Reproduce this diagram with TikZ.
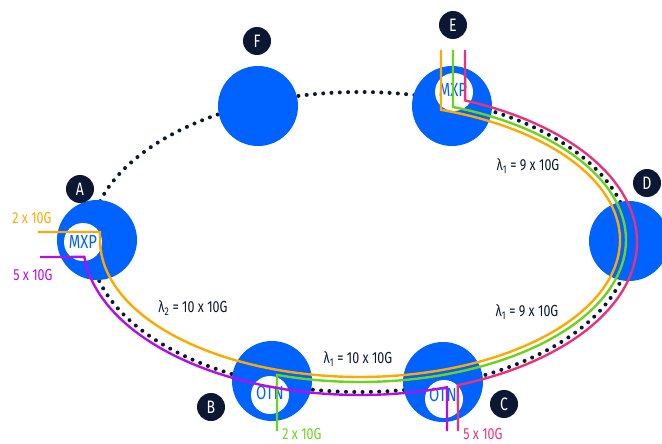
\documentclass[tikz,border=0pt]{standalone}
\usepackage{fontspec}
\setmainfont{Fira Sans}[FakeStretch=0.78]
\definecolor{nodeblue}{HTML}{0062FF}
\definecolor{navy}{HTML}{0B1733}
\definecolor{lorange}{HTML}{FFA800}
\definecolor{lgreen}{HTML}{6CD41E}
\definecolor{lpink}{HTML}{E8327C}
\definecolor{lpurple}{HTML}{B30FE6}
\begin{document}
\begin{tikzpicture}[x=1pt,y=-1pt,
  site/.style={circle, fill=nodeblue, minimum size=80pt, inner sep=0pt},
  hole/.style={circle, fill=white, minimum size=38pt, inner sep=0pt},
  tag/.style={circle, fill=navy, text=white, minimum size=28pt, inner sep=0pt, font=\fontsize{18}{18}\selectfont},
  eq/.style={text=navy, inner sep=0pt, font=\fontsize{16}{16}\selectfont},
  rate/.style={inner sep=0pt, font=\fontsize{16}{16}\selectfont},
  dev/.style={text=nodeblue, inner sep=0pt, font=\fontsize{19}{19}\selectfont},
  fiber/.style={line width=2.4pt},
  ring/.style={navy, line width=4pt, dash pattern=on 0pt off 8.3pt, line cap=round}]
\useasboundingbox (0,0) rectangle (662,444);
% dotted ring
\draw[ring] (360,242) ellipse [x radius=270pt, y radius=150pt];
% sites
\node[site] (A) at (97,240) {};
\node[site] (F) at (258,106) {};
\node[site] (E) at (452,106) {};
\node[site] (D) at (629,241) {};
\node[site] (C) at (443,382) {};
\node[site] (B) at (272,381) {};
% holes with devices
\node[hole] (Ah) at (83,242) {};
\node[dev] (Ad) at (Ah) {MXP};
\node[hole] (Eh) at (454,92) {};
\node[dev] (Ed) at (453,90) {MXP};
\node[hole] (Bh) at (270,395) {};
\node[dev] (Bd) at (270,393) {OTN};
\node[hole] (Ch) at (444,399) {};
\node[dev] (Cd) at (443,395) {OTN};
% tags
\node[tag] (At) at (80,189) {A};
\node[tag] (Ft) at (257,41) {F};
\node[tag] (Et) at (453,25) {E};
\node[tag] (Dt) at (647,183) {D};
\node[tag] (Ct) at (504,404) {C};
\node[tag] (Bt) at (211,407) {B};
% fibers
\draw[fiber, lorange] (38,232) -- (100,232) -- plot[domain=180:431.85, samples=140] ({360+260*cos(\x)},{240-137*sin(\x)}) -- (441,50);
\draw[fiber, lgreen] (277,431) -- plot[domain=-108.18:69.54, samples=140] ({360+266*cos(\x)},{240-142*sin(\x)}) -- (453,50);
\draw[fiber, lpink] (458,431) -- plot[domain=-69.3:67.7, samples=140] ({360+277*cos(\x)},{242-153*sin(\x)}) -- (465,50);
\draw[fiber, lpurple] (40,257) -- plot[domain=185.6:288.3, samples=100] ({360+277*cos(\x)},{242-153*sin(\x)}) -- (447,431);
% labels
\node[eq] (l1) at (528,166) {λ\textsubscript{1} = 9 x 10G};
\node[eq] (l2) at (527,312) {λ\textsubscript{1} = 9 x 10G};
\node[eq] (l3) at (358,359) {λ\textsubscript{1} = 10 x 10G};
\node[eq] (l4) at (193,308) {λ\textsubscript{2} = 10 x 10G};
\node[rate, text=lorange] (r1) at (32,218) {2 x 10G};
\node[rate, text=lpurple] (r2) at (33,275) {5 x 10G};
\node[rate, text=lgreen] (r3) at (302,434) {2 x 10G};
\node[rate, text=lpink] (r4) at (483,434) {5 x 10G};
\end{tikzpicture}
\end{document}
